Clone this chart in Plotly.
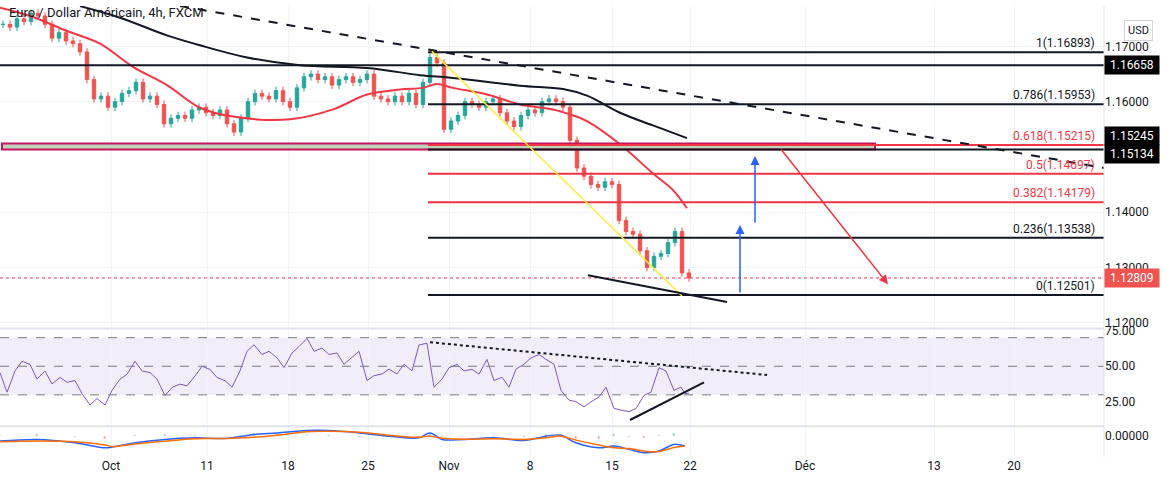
import plotly.graph_objects as go
from plotly.subplots import make_subplots

# ---------------- data ----------------
closes = [1.1740,1.1735,1.1750,1.1745,1.1760,1.1755,1.1740,1.1715,1.1725,1.1710,
          1.1705,1.1690,1.1640,1.1605,1.1610,1.1590,1.1600,1.1615,1.1620,1.1635,
          1.1605,1.1610,1.1595,1.1560,1.1570,1.1575,1.1570,1.1585,1.1590,1.1580,
          1.1575,1.1585,1.1560,1.1545,1.1570,1.1600,1.1615,1.1610,1.1605,1.1620,
          1.1600,1.1590,1.1625,1.1645,1.1650,1.1640,1.1645,1.1630,1.1640,1.1645,
          1.1635,1.1640,1.1650,1.1610,1.1605,1.1600,1.1610,1.1600,1.1615,1.1595,
          1.1635,1.1680,1.1670,1.1550,1.1565,1.1575,1.1600,1.1595,1.1590,1.1600,
          1.1605,1.1580,1.1565,1.1555,1.1575,1.1585,1.1580,1.1600,1.1605,1.1600,
          1.1590,1.1530,1.1480,1.1465,1.1450,1.1445,1.1455,1.1450,1.1385,1.1365,
          1.1360,1.1330,1.1300,1.1320,1.1325,1.1345,1.1365,1.1290,1.12809]
bar_step = 7
bar_x = [3 + bar_step * i for i in range(len(closes))]

ma50_x = [0, 30, 67, 100, 133, 167, 200, 233, 290, 333, 367, 400, 423, 437, 453, 487, 520, 553, 570, 587, 620, 653, 673, 687]
ma50_y = [1.1770, 1.1755, 1.1728, 1.1705, 1.1663, 1.1630, 1.1589, 1.1573, 1.1568, 1.1586, 1.1613, 1.1622, 1.1625, 1.1632, 1.1625, 1.1613, 1.1595, 1.1586, 1.1577, 1.1565, 1.1523, 1.1470, 1.1440, 1.1407]
ma200_x = [80, 120, 167, 200, 247, 300, 367, 420, 453, 520, 563, 587, 620, 653, 687]
ma200_y = [1.1773, 1.1752, 1.1720, 1.1702, 1.1680, 1.1666, 1.1661, 1.1648, 1.1643, 1.1629, 1.1623, 1.1611, 1.1580, 1.1557, 1.1534]

fib_levels = [1.16893, 1.15953, 1.15215, 1.14697, 1.14179, 1.13538, 1.12501]
fib_names = ["1", "0.786", "0.618", "0.5", "0.382", "0.236", "0"]
fib_red = [False, False, True, True, True, False, False]

rsi_x = [0,7,15,22,30,37,45,52,60,67,75,82,90,97,105,112,120,127,135,142,150,157,165,172,180,187,195,202,210,217,
         225,232,240,247,254,262,269,277,284,292,299,307,314,322,329,337,344,352,359,367,374,382,389,397,404,412,419,
         427,434,442,449,457,464,472,479,487,494,502,509,516,524,531,539,546,554,561,569,576,584,591,599,606,614,
         621,629,636,644,651,659,666,674,681,685,689]
rsi_v = [45.5,31.8,46.7,53.5,51.3,41.0,46.7,37.6,42.2,38.8,40.0,30.9,22.9,27.4,22.9,33.1,41.0,44.4,53.5,46.7,45.6,41.0,29.5,35.2,
         37.5,36.3,43.2,50.0,47.8,42.2,39.9,35.4,46.8,60.5,65.0,58.2,60.5,55.9,49.0,59.3,63.8,69.5,60.5,62.7,58.2,59.3,51.4,
         55.9,60.5,40.0,43.4,44.6,48.0,44.6,51.4,46.8,64.9,66.1,35.3,41.0,49.0,51.3,46.8,47.9,44.5,54.8,40.0,42.3,35.4,
         48.0,51.4,55.9,58.2,54.8,51.4,33.1,26.3,25.2,21.7,25.1,28.6,35.3,20.5,19.3,18.2,20.5,29.6,31.9,49.0,46.7,33.1,35.4,30.9,31.2]

macd_x = [0,37,75,105,112,135,165,195,225,254,277,307,329,359,389,419,430,442,464,494,524,546,561,576,599,614,629,644,659,674,685]
macd_v = [-0.0005,-0.00033,-0.00067,-0.00117,-0.0011,-0.00067,-0.00033,-0.00017,-0.00023,0.00017,0.00033,0.00057,0.00057,
          0.00033,0.0,-0.00017,0.00033,-0.00033,-0.00033,-0.00017,-0.00043,0.0,0.0001,-0.00067,-0.00117,-0.001,-0.00133,
          -0.00167,-0.0015,-0.00083,-0.001]
sig_v = [-0.00057,-0.0005,-0.00057,-0.0009,-0.00105,-0.0008,-0.0005,-0.00025,-0.00023,-0.0001,0.0001,0.00045,0.0005,
         0.0004,0.0001,-0.0001,0.0,-0.0002,-0.0003,-0.00025,-0.00033,-0.00015,0.0,-0.0004,-0.0009,-0.00117,-0.00125,
         -0.0015,-0.00155,-0.00115,-0.001]

tick_pos = [111, 207, 288, 368, 449, 530, 612, 690, 805, 934, 1014]
tick_txt = ["Oct", "11", "18", "25", "Nov", "8", "15", "22", "Déc", "13", "20"]

UP, DN = "#26a69a", "#ef5350"
XMAX = 1104

opens = [closes[0]] + closes[:-1]
highs = [max(o, c) + 0.0007 for o, c in zip(opens, closes)]
lows = [min(o, c) - 0.0007 for o, c in zip(opens, closes)]

fig = make_subplots(rows=3, cols=1, shared_xaxes=True)
fig.add_trace(go.Candlestick(x=bar_x, open=opens, high=highs, low=lows, close=closes,
                             increasing=dict(line=dict(color=UP, width=1), fillcolor=UP),
                             decreasing=dict(line=dict(color=DN, width=1), fillcolor=DN),
                             whiskerwidth=0, showlegend=False), 1, 1)
fig.add_trace(go.Scatter(x=ma50_x, y=ma50_y, mode="lines", line=dict(color="#f23645", width=2, shape="spline"),
                         showlegend=False), 1, 1)
fig.add_trace(go.Scatter(x=ma200_x, y=ma200_y, mode="lines", line=dict(color="#131722", width=2, shape="spline"),
                         showlegend=False), 1, 1)

fig.add_trace(go.Scatter(x=rsi_x, y=rsi_v, mode="lines", line=dict(color="#7e57c2", width=1), showlegend=False), 2, 1)
hist = [m - s for m, s in zip(macd_v, sig_v)]
fig.add_trace(go.Bar(x=macd_x, y=hist, marker_color=[UP if h >= 0 else DN for h in hist], width=2,
                     opacity=0.6, showlegend=False), 3, 1)
fig.add_trace(go.Scatter(x=macd_x, y=macd_v, mode="lines", line=dict(color="#2962ff", width=1.5, shape="spline"),
                         showlegend=False), 3, 1)
fig.add_trace(go.Scatter(x=macd_x, y=sig_v, mode="lines", line=dict(color="#ff6d00", width=1.5, shape="spline"),
                         showlegend=False), 3, 1)

shapes = []
def line(x0, y0, x1, y1, color, width=2, dash="solid", yr="y", xr="x"):
    shapes.append(dict(type="line", xref=xr, yref=yr, x0=x0, y0=y0, x1=x1, y1=y1,
                       line=dict(color=color, width=width, dash=dash)))

shapes.append(dict(type="rect", xref="x", yref="y", x0=2, x1=875, y0=1.15134, y1=1.15245,
                   fillcolor="#bfd3bd", line=dict(color="#c2185b", width=2)))
line(0, 1.16658, XMAX, 1.16658, "#131722")
line(428, 1.15134, XMAX, 1.15134, "#131722")
for lv, red in zip(fib_levels, fib_red):
    line(428, lv, XMAX, lv, "#f23645" if red else "#131722")
line(0, 1.12809, XMAX, 1.12809, "#f23645", 1, "dot")
line(180, 1.17732, XMAX, 1.14800, "#131722", 2, "dash")
line(432, 1.16911, 682, 1.12482, "#ffeb3b", 1.5)
line(588, 1.12857, 727, 1.12375, "#131722", 2)
shapes.append(dict(type="rect", xref="x2", yref="y2", x0=0, x1=XMAX, y0=30, y1=70,
                   fillcolor="rgba(126,87,194,0.1)", line=dict(width=0), layer="below"))
for v in (70, 50, 30):
    line(0, v, XMAX, v, "#787b86", 1, "dash", "y2", "x2")
line(430, 66.8, 767, 43.9, "#131722", 2, "dot", "y2", "x2")
line(630, 12.4, 704, 38.7, "#131722", 2, "solid", "y2", "x2")
for yv in (0.285, 0.068):
    shapes.append(dict(type="line", xref="paper", yref="paper", x0=0, x1=1, y0=yv, y1=yv,
                       line=dict(color="#e0e3eb", width=2)))
shapes.append(dict(type="line", xref="paper", yref="paper", x0=1, x1=1, y0=0, y1=1,
                   line=dict(color="#e0e3eb", width=1)))

ann = []
ann.append(dict(xref="paper", yref="paper", x=0.006, y=0.985, text="Euro / Dollar Américain, 4h, FXCM",
                showarrow=False, xanchor="left", yanchor="middle", font=dict(size=13, color="#131722")))
for lv, nm, red in zip(fib_levels, fib_names, fib_red):
    ann.append(dict(xref="x", yref="y", x=1097, y=lv, text=f"{nm}({lv:.5f})", showarrow=False,
                    xanchor="right", yanchor="bottom", font=dict(size=12, color="#f23645" if red else "#131722")))
for lv, bg, ys in [(1.16658, "#000000", 0), (1.15245, "#000000", 7), (1.15134, "#000000", -4),
                   (1.12809, "#f05350", 0)]:
    ann.append(dict(xref="paper", yref="y", x=1.0, y=lv, yshift=ys, text=f" {lv:.5f} ", showarrow=False,
                    xanchor="left", yanchor="middle", bgcolor=bg, font=dict(size=12, color="white"), borderpad=2))
ann.append(dict(xref="paper", yref="paper", x=1.031, y=0.968, text="USD", showarrow=False, xanchor="center",
                font=dict(size=11, color="#131722"), bordercolor="#d1d4dc", borderwidth=1, borderpad=3))
for (x0, y0, x1, y1, col) in [(740, 1.12518, 740, 1.13768, "#2962ff"), (755, 1.13786, 755, 1.15018, "#2962ff"),
                              (780, 1.15161, 888, 1.12696, "#f23645")]:
    ann.append(dict(xref="x", yref="y", axref="x", ayref="y", x=x1, y=y1, ax=x0, ay=y0, text="",
                    showarrow=True, arrowhead=2, arrowsize=1.2, arrowwidth=1.5, arrowcolor=col))

fig.update_layout(width=1174, height=484, margin=dict(l=0, r=70, t=0, b=27),
                  plot_bgcolor="white", paper_bgcolor="white", shapes=shapes, annotations=ann,
                  font=dict(family="Roboto, sans-serif", color="#131722"), bargap=0)
gridc = "#f0f3fa"
for r in (1, 2, 3):
    fig.update_xaxes(range=[0, XMAX], tickvals=tick_pos, ticktext=tick_txt, showgrid=True, gridcolor=gridc,
                     zeroline=False, showline=False, rangeslider=dict(visible=False), row=r, col=1,
                     tickfont=dict(size=12, color="#131722"))
fig.update_layout(yaxis=dict(domain=[0.287, 1], range=[1.11911, 1.17732], side="right",
                             tickvals=[1.12, 1.13, 1.14, 1.16, 1.17], tickformat=".5f",
                             gridcolor=gridc, zeroline=False, tickfont=dict(size=12)),
                  yaxis2=dict(domain=[0.070, 0.282], range=[8.6, 75.5], side="right", tickvals=[25, 50, 75],
                              tickformat=".2f", showgrid=False, zeroline=False, tickfont=dict(size=12)),
                  yaxis3=dict(domain=[0.0, 0.066], range=[-0.0021, 0.0009], side="right", tickvals=[0],
                              tickformat=".5f", showgrid=False, zeroline=False, tickfont=dict(size=12)))
fig.write_html("out.html", config={"displayModeBar": False},
               post_script="document.body.style.margin='0';document.body.style.overflow='hidden';")
